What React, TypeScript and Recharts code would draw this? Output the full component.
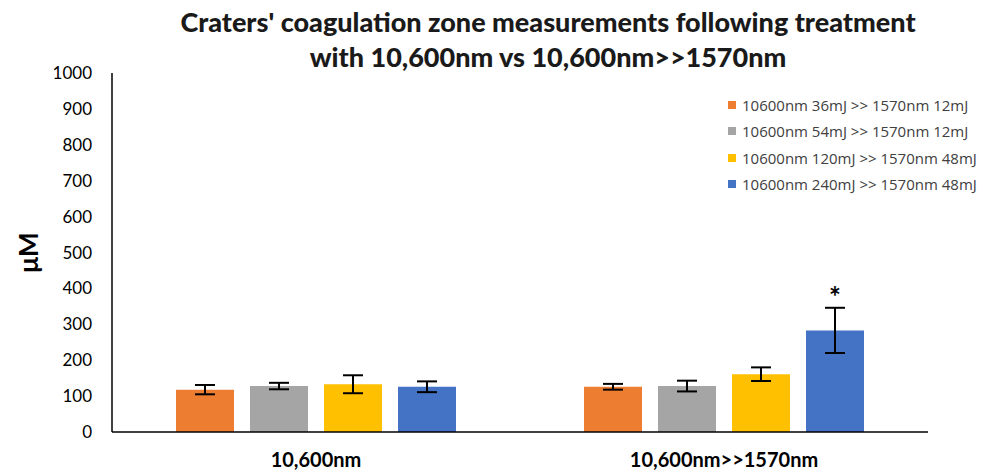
import React from "react";
import { BarChart, Bar, XAxis, YAxis, ErrorBar, LabelList } from "recharts";

const categories = ["10,600nm", "10,600nm>>1570nm"];
const seriesNames = [
  "10600nm 36mJ >> 1570nm 12mJ",
  "10600nm 54mJ >> 1570nm 12mJ",
  "10600nm 120mJ >> 1570nm 48mJ",
  "10600nm 240mJ >> 1570nm 48mJ",
];
const seriesColors = ["#ED7D31", "#A5A5A5", "#FFC000", "#4472C4"];
const s1 = [118, 126];
const s2 = [128, 128];
const s3 = [133, 161];
const s4 = [126, 283];
const e1 = [13, 8];
const e2 = [9, 15];
const e3 = [25, 19];
const e4 = [15, 63];
const significance4 = ["", "*"];
const yTicks = [0, 100, 200, 300, 400, 500, 600, 700, 800, 900, 1000];

const values = [s1, s2, s3, s4];

const data = categories.map((c, i) => ({
  name: c,
  v0: s1[i], v1: s2[i], v2: s3[i], v3: s4[i],
  err0: e1[i], err1: e2[i], err2: e3[i], err3: e4[i],
  sig3: significance4[i],
}));

const FONT = "Lato, 'Open Sans', sans-serif";

const StarLabel = (props: any) => {
  const { x, y, width, height, index } = props;
  const mark = significance4[index];
  if (!mark) return null;
  const v = s4[index];
  const pxPerUnit = height / v;
  const top = y - e4[index] * pxPerUnit;
  return (
    <text x={x + width / 2} y={top - 1} textAnchor="middle" fontFamily={FONT} fontWeight={700} fontSize={28} fill="#000">
      {mark}
    </text>
  );
};

const YLabel = (props: any) => {
  const vb = props.viewBox || {};
  const cy = vb.y + vb.height / 2;
  return (
    <text x={28} y={cy} transform={`rotate(-90, 28, ${cy})`} textAnchor="middle" dominantBaseline="central" fontFamily={FONT} fontWeight={700} fontSize={26} fill="#000">
      μM
    </text>
  );
};

export default function App() {
  return (
    <div style={{ position: "absolute", left: 0, top: 0, width: 983, height: 472, background: "#fff" }}>
      <div style={{ position: "absolute", left: 0, top: 4, width: 1096, textAlign: "center", fontFamily: FONT, fontWeight: 900, fontSize: 27, lineHeight: "35px", color: "#1a1a1a" }}>
        Craters' coagulation zone measurements following treatment
        <br />
        with 10,600nm vs 10,600nm&gt;&gt;1570nm
      </div>
      <div style={{ position: "absolute", left: 728, top: 92, fontFamily: "'Open Sans', sans-serif", fontSize: 15, color: "#404040", zIndex: 2 }}>
        {seriesNames.map((n, i) => (
          <div key={n} style={{ display: "flex", alignItems: "center", height: 26.3, whiteSpace: "nowrap" }}>
            <span style={{ display: "inline-block", width: 8, height: 8, background: seriesColors[i], marginRight: 6 }} />
            <span>{n}</span>
          </div>
        ))}
      </div>
      <BarChart width={983} height={472} data={data} margin={{ top: 73, right: 55, left: 0, bottom: 0 }} barGap={16} barCategoryGap={64}>
        <XAxis dataKey="name" height={40} tickLine={false} tickSize={0} tickMargin={21} axisLine={{ stroke: "#000", strokeWidth: 1.5 }} tick={{ fontFamily: FONT, fontWeight: 700, fontSize: 20, fill: "#000" }} />
        <YAxis width={112} domain={[0, 1000]} ticks={yTicks} interval={0} tickLine={false} tickSize={0} tickMargin={20} axisLine={{ stroke: "#000", strokeWidth: 1.5 }} tick={{ fontFamily: FONT, fontSize: 17, fill: "#000" }} label={<YLabel />} />
        {values.map((_, i) => (
          <Bar key={i} dataKey={`v${i}`} name={seriesNames[i]} fill={seriesColors[i]} barSize={58} isAnimationActive={false}>
            <ErrorBar dataKey={`err${i}`} width={10} stroke="#000" strokeWidth={2} direction="y" />
            {i === 3 ? <LabelList dataKey="sig3" content={<StarLabel />} /> : null}
          </Bar>
        ))}
      </BarChart>
    </div>
  );
}
